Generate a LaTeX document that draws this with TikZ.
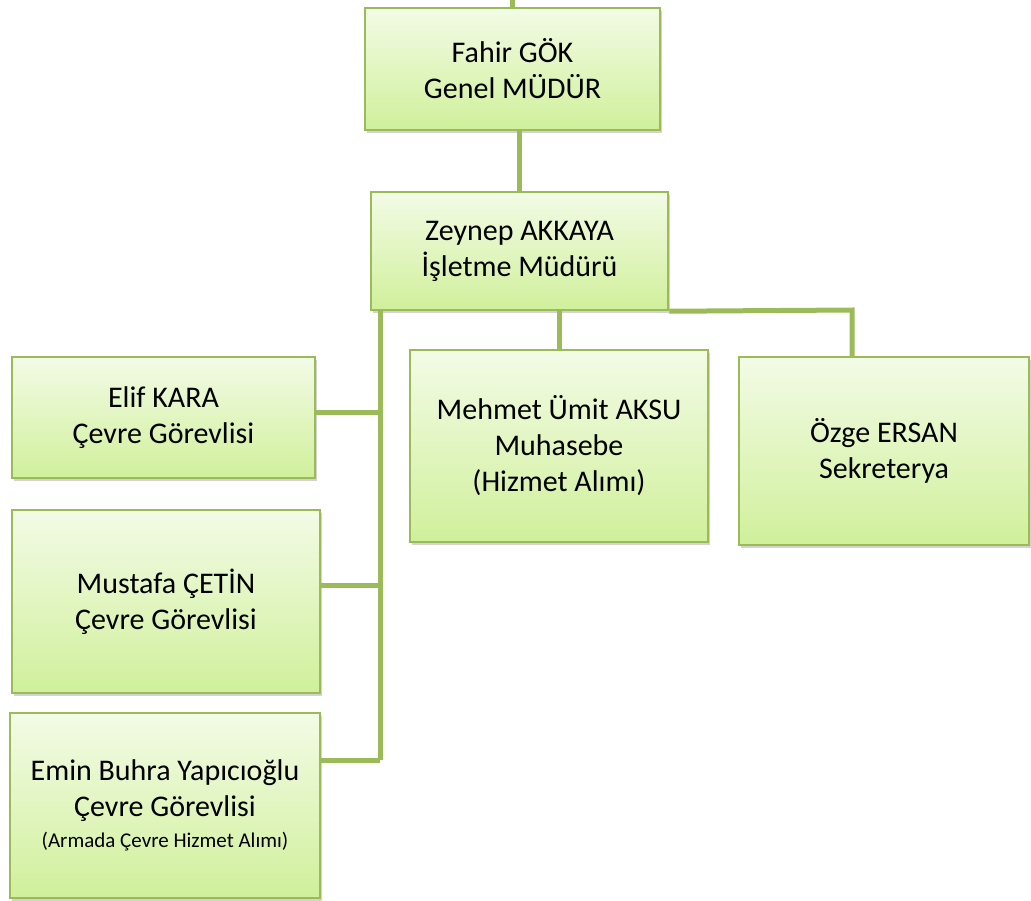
\documentclass[tikz,border=0pt]{standalone}
\usepackage{fontspec}
\setmainfont{Carlito}
\usepackage{tikz}
\usetikzlibrary{shadows,calc}
\definecolor{org_line}{RGB}{155, 187, 89}
\definecolor{org_top}{RGB}{243, 251, 230}
\definecolor{org_bot}{RGB}{208, 240, 155}
\tikzstyle{pn}=[rectangle,top color=org_top,bottom color=org_bot,draw=org_line,
  line width=2.5pt,inner sep=2pt,align=center,font=\fontsize{30}{36}\selectfont,
  drop shadow={opacity=0.35,shadow xshift=2pt,shadow yshift=-3pt}]
\tikzstyle{ln}=[draw=org_line,line width=5pt]
\tikzstyle{none}=[]

\begin{document}
\begin{tikzpicture}[x=1pt,y=-1pt]
            \useasboundingbox (0,0) rectangle (1031,900);
            \node [style=pn,minimum width=295pt,minimum height=122pt] (1) at (512.5, 69) {Fahir GÖK\\Genel MÜDÜR};
            \node [style=pn,minimum width=297pt,minimum height=118pt] (2) at (519.5, 251) {Zeynep AKKAYA\\İşletme Müdürü};
            \node [style=pn,minimum width=298pt,minimum height=192pt] (3) at (559, 446) {Mehmet Ümit AKSU\\Muhasebe\\(Hizmet Alımı)};
            \node [style=pn,minimum width=290pt,minimum height=188pt] (4) at (884, 451) {Özge ERSAN\\Sekreterya};
            \node [style=pn,minimum width=303pt,minimum height=121pt] (5) at (163.5, 417.5) {Elif KARA\\Çevre Görevlisi};
            \node [style=pn,minimum width=308pt,minimum height=183pt] (6) at (166, 601.5) {Mustafa ÇETİN\\Çevre Görevlisi};
            \node [style=pn,minimum width=310pt,minimum height=185pt] (7) at (165, 805.5) {Emin Buhra Yapıcıoğlu\\Çevre Görevlisi\\[-5pt]{\fontsize{21}{28}\selectfont (Armada Çevre Hizmet Alımı)}};
            \coordinate (0) at (512, 0);
            \coordinate (8) at (380, 412);
            \coordinate (9) at (380, 585);
            \coordinate (10) at (380, 760);
            \coordinate (11) at (852, 310);
            \draw [style=ln] (0) to (0 |- 1.north);
            \draw [style=ln] (2.north) to (2.north |- 1.south);
            \draw [style=ln] (2.south -| 10) to (10);
            \draw [style=ln] (5.east |- 8) to (8);
            \draw [style=ln] (6.east |- 9) to (9);
            \draw [style=ln] (7.east |- 10) to (10);
            \draw [style=ln] (3.north) to (3.north |- 2.south);
            \draw [style=ln] (2.south east) to (11) to (11 |- 4.north);
    \end{tikzpicture}
\end{document}
